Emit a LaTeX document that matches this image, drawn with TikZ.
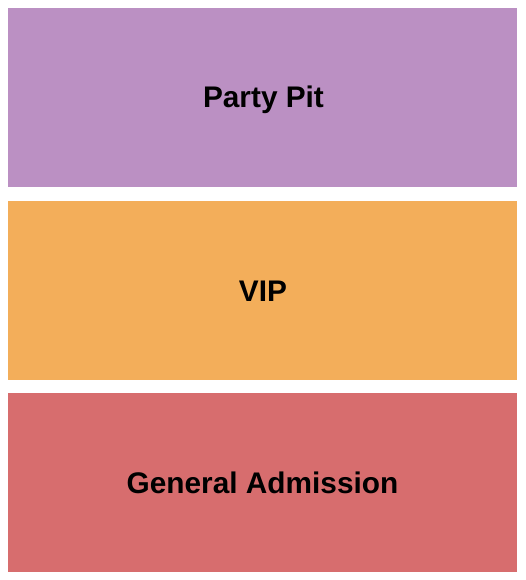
\documentclass[tikz,border=0pt]{standalone}
\usepackage{fontspec}
\setmainfont{Liberation Sans}
\definecolor{pitcol}{HTML}{BB90C3}
\definecolor{vipcol}{HTML}{F3AE5A}
\definecolor{gacol}{HTML}{D76D6E}
\begin{document}
\begin{tikzpicture}[x=1pt,y=-1pt,
  lbl/.style={anchor=base,inner sep=0pt,font=\fontsize{29.8}{32}\selectfont\bfseries,text=black}]
\useasboundingbox (0,0) rectangle (525,580);
\fill[white] (0,0) rectangle (525,580);
\fill[pitcol] (8,8) rectangle (517,187);
\fill[vipcol] (8,201) rectangle (517,380);
\fill[gacol] (8,393) rectangle (517,572);
\node[lbl] (pit) at (263.5,108) {Party Pit};
\node[lbl] (vip) at (263,301) {VIP};
\node[lbl] (ga) at (262.5,493) {General Admission};
\end{tikzpicture}
\end{document}
